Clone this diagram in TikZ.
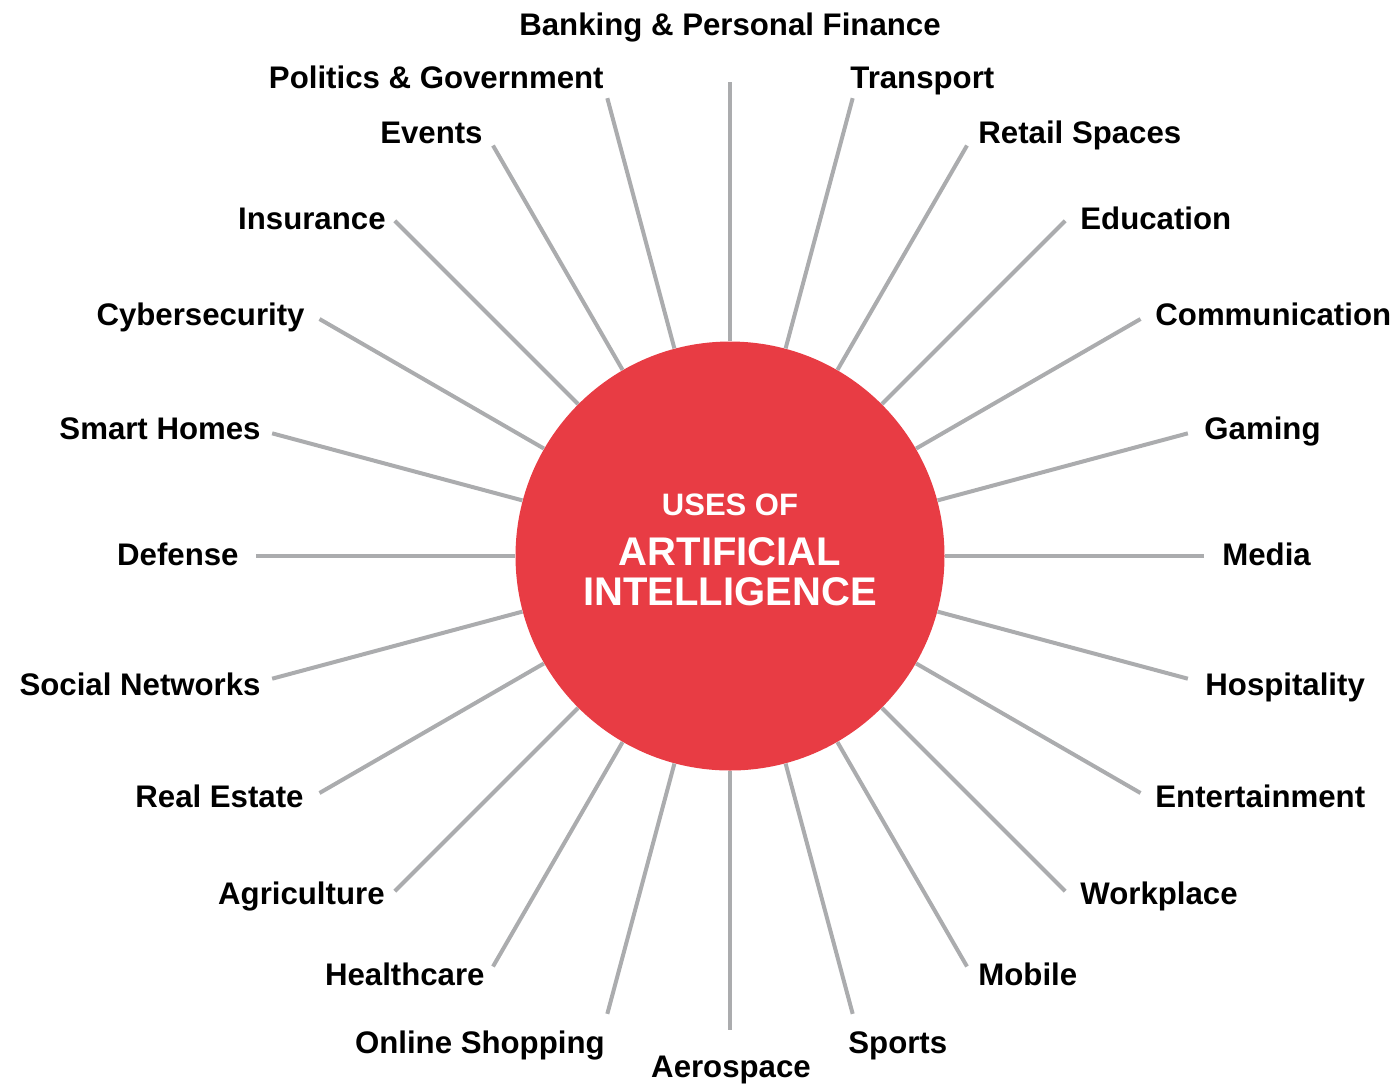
\documentclass[tikz,border=0pt]{standalone}
\usepackage{fontspec}
\setmainfont{Liberation Sans}
\definecolor{aired}{HTML}{E83C44}
\definecolor{spokegray}{HTML}{ABACAE}

\begin{document}
\begin{tikzpicture}[x=0.5pt, y=-0.5pt,
  spoke/.style={spokegray, line width=2pt},
  topic/.style={inner sep=0pt, font=\fontsize{15.6}{18}\selectfont\bfseries}]
\useasboundingbox (0,0) rectangle (1398,1084);
\node[circle, fill=aired, minimum size=214.5pt, inner sep=0pt] (ai) at (730,556){};
% spokes round the circle
\foreach \a in {0,15,...,345}{
  \path (ai.center) ++(\a:237pt) coordinate (e\a);
  \draw[spoke] (ai) -- (e\a);
}
% text in the circle
\node[white, inner sep=0pt, anchor=base, font=\fontsize{15.5}{18}\selectfont\bfseries] (uses) at (730,515){USES OF};
\node[white, inner sep=0pt, anchor=base, font=\fontsize{20}{24}\selectfont\bfseries] (artificial) at (730,565){ARTIFICIAL};
\node[white, inner sep=0pt, anchor=base, font=\fontsize{20}{24}\selectfont\bfseries] (intelligence) at (730,605){INTELLIGENCE};
% right side
\node[topic, anchor=base west] (media) at (1222,565){Media};
\node[topic, anchor=base west] (gaming) at (1204,439){Gaming};
\node[topic, anchor=base west] (communication) at (1155,325){Communication};
\node[topic, anchor=base west] (education) at (1080,229){Education};
\node[topic, anchor=base west] (retail) at (978,143){Retail Spaces};
\node[topic, anchor=base west] (transport) at (850,88){Transport};
\node[topic, anchor=base] (banking) at (730,35){Banking \& Personal Finance};
\node[topic, anchor=base west] (hospitality) at (1205,695){Hospitality};
\node[topic, anchor=base west] (entertainment) at (1155,807){Entertainment};
\node[topic, anchor=base west] (workplace) at (1080,904){Workplace};
\node[topic, anchor=base west] (mobile) at (978,985){Mobile};
\node[topic, anchor=base west] (sports) at (848,1053){Sports};
\node[topic, anchor=base] (aerospace) at (731,1077){Aerospace};
% left side
\node[topic, anchor=base east] (politics) at (604,88){Politics \& Government};
\node[topic, anchor=base east] (events) at (483,143){Events};
\node[topic, anchor=base east] (insurance) at (386,229){Insurance};
\node[topic, anchor=base east] (cybersecurity) at (305,325){Cybersecurity};
\node[topic, anchor=base east] (smarthomes) at (261,439){Smart Homes};
\node[topic, anchor=base east] (defense) at (239,565){Defense};
\node[topic, anchor=base east] (social) at (261,695){Social Networks};
\node[topic, anchor=base east] (realestate) at (304,807){Real Estate};
\node[topic, anchor=base east] (agriculture) at (385,904){Agriculture};
\node[topic, anchor=base east] (healthcare) at (485,985){Healthcare};
\node[topic, anchor=base east] (shopping) at (605,1053){Online Shopping};
\end{tikzpicture}
\end{document}
